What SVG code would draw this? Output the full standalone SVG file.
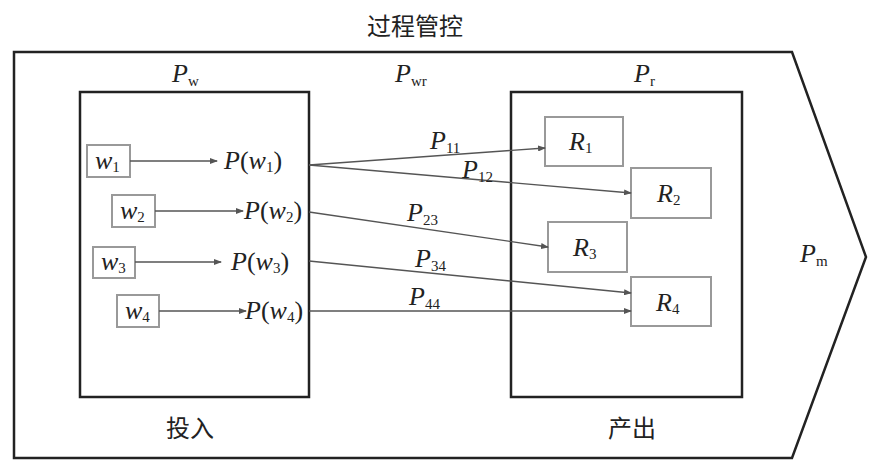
<svg xmlns="http://www.w3.org/2000/svg" width="881" height="474" viewBox="0 0 881 474">
<style>
.m{font-family:"Liberation Serif",serif;font-style:italic;font-size:26px;fill:#222}
.s{font-size:15px;font-style:normal}
.u{font-style:normal}
.c{font-family:"Noto Sans CJK SC",sans-serif;font-size:24px;fill:#222}
.big{fill:none;stroke:#222;stroke-width:2.5}
.box{fill:#fff;stroke:#999;stroke-width:2}
.ln{stroke:#555;stroke-width:1.3;fill:none;marker-end:url(#a)}
</style>
<defs><marker id="a" markerWidth="8" markerHeight="6" refX="7" refY="3" orient="auto" markerUnits="userSpaceOnUse"><path d="M0,0L8,3L0,6z" fill="#555"/></marker></defs>
<rect width="881" height="474" fill="#fff"/>
<g id="outer"><path class="big" d="M14,52H792L866,257L792,458H14Z"/>
<text class="c" x="415" y="35" text-anchor="middle">过程管控</text>
<text class="m" x="800" y="262">P<tspan class="s" dy="4">m</tspan></text>
<text class="m" x="395" y="82">P<tspan class="s" dy="4">wr</tspan></text></g>
<g id="input"><rect class="big" x="80" y="92" width="229" height="305"/>
<text class="m" x="172" y="82">P<tspan class="s" dy="4">w</tspan></text>
<text class="c" x="190" y="437" text-anchor="middle">投入</text></g>
<g id="output"><rect class="big" x="511" y="92" width="231" height="305"/>
<text class="m" x="634" y="82">P<tspan class="s" dy="4">r</tspan></text>
<text class="c" x="632" y="437" text-anchor="middle">产出</text></g>
<g id="w1"><rect class="box" x="87" y="145" width="43" height="32"/><text class="m" x="95" y="169">w<tspan class="s" dy="3">1</tspan></text></g>
<g id="w2"><rect class="box" x="112" y="195" width="43" height="32"/><text class="m" x="120" y="219">w<tspan class="s" dy="3">2</tspan></text></g>
<g id="w3"><rect class="box" x="93" y="247" width="42" height="31"/><text class="m" x="101" y="270">w<tspan class="s" dy="3">3</tspan></text></g>
<g id="w4"><rect class="box" x="117" y="295" width="42" height="32"/><text class="m" x="125" y="319">w<tspan class="s" dy="3">4</tspan></text></g>
<g id="pw"><text class="m" x="224" y="169">P<tspan class="u">(</tspan>w<tspan class="s" dy="3">1</tspan><tspan class="u" dy="-3">)</tspan></text>
<text class="m" x="244" y="219">P<tspan class="u">(</tspan>w<tspan class="s" dy="3">2</tspan><tspan class="u" dy="-3">)</tspan></text>
<text class="m" x="231" y="270">P<tspan class="u">(</tspan>w<tspan class="s" dy="3">3</tspan><tspan class="u" dy="-3">)</tspan></text>
<text class="m" x="245" y="319">P<tspan class="u">(</tspan>w<tspan class="s" dy="3">4</tspan><tspan class="u" dy="-3">)</tspan></text></g>
<g id="R1"><rect class="box" x="545" y="117" width="78" height="49"/><text class="m" x="569" y="150">R<tspan class="s" dy="3">1</tspan></text></g>
<g id="R2"><rect class="box" x="631" y="168" width="80" height="50"/><text class="m" x="657" y="202">R<tspan class="s" dy="3">2</tspan></text></g>
<g id="R3"><rect class="box" x="548" y="222" width="79" height="50"/><text class="m" x="573" y="256">R<tspan class="s" dy="3">3</tspan></text></g>
<g id="R4"><rect class="box" x="631" y="277" width="80" height="49"/><text class="m" x="656" y="311">R<tspan class="s" dy="3">4</tspan></text></g>
<g id="connectors">
<path class="ln" d="M130,161H217"/><path class="ln" d="M155,211H243"/><path class="ln" d="M135,262H221"/><path class="ln" d="M159,311H246"/>
<path class="ln" d="M309,165L545,148"/><path class="ln" d="M309,165L631,193"/><path class="ln" d="M309,212L548,247"/><path class="ln" d="M309,261L631,293"/><path class="ln" d="M309,311H631"/>
<text class="m" x="430" y="149">P<tspan class="s" dy="4">11</tspan></text>
<text class="m" x="462" y="178">P<tspan class="s" dy="4">12</tspan></text>
<text class="m" x="407" y="221">P<tspan class="s" dy="4">23</tspan></text>
<text class="m" x="415" y="267">P<tspan class="s" dy="4">34</tspan></text>
<text class="m" x="409" y="305">P<tspan class="s" dy="4">44</tspan></text>
</g>
</svg>
